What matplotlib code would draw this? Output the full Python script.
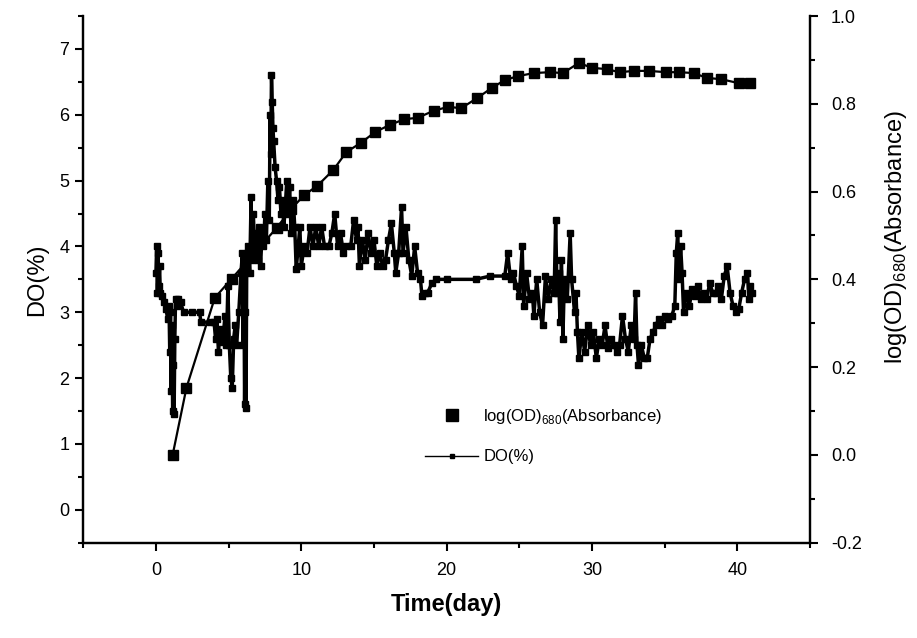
import numpy as np
import matplotlib
matplotlib.use('Agg')
import matplotlib.pyplot as plt
from matplotlib.lines import Line2D

plt.rcParams['font.family'] = ['Liberation Sans', 'DejaVu Sans']
plt.rcParams['mathtext.fontset'] = 'custom'
plt.rcParams['mathtext.rm'] = 'Liberation Sans'

# log(OD)680 - right axis
od_day = [1.15, 2.1, 4.05, 5.2, 8.3, 9.3, 10.2, 11.1, 12.2, 13.1, 14.1, 15.1, 16.1,
          17.1, 18.0, 19.1, 20.1, 21.0, 22.1, 23.1, 24.0, 24.9, 26.0, 27.1, 28.0,
          29.1, 30.0, 31.0, 31.9, 32.9, 33.9, 35.1, 36.0, 37.0, 37.9, 38.9, 40.1, 40.9]
od_val = [0.0, 0.153, 0.358, 0.401, 0.517, 0.56, 0.592, 0.613, 0.649, 0.690, 0.711,
          0.736, 0.752, 0.765, 0.768, 0.784, 0.793, 0.790, 0.813, 0.836, 0.854, 0.863,
          0.870, 0.872, 0.870, 0.893, 0.882, 0.879, 0.872, 0.875, 0.875, 0.872, 0.872,
          0.870, 0.859, 0.856, 0.847, 0.847]

# DO(%) - left axis
do_day = [0.0, 0.05, 0.1, 0.15, 0.2, 0.25, 0.3, 0.4, 0.55, 0.7, 0.8, 0.9, 0.95, 1.0,
          1.05, 1.1, 1.15, 1.2, 1.25, 1.3, 1.35, 1.45, 1.55, 1.7, 1.9, 2.5, 3.0, 3.1,
          3.7, 4.0, 4.1, 4.2, 4.3, 4.45, 4.6, 4.75, 4.85, 4.95, 5.05, 5.15, 5.25, 5.35,
          5.45, 5.55, 5.7, 5.85, 5.95, 6.0, 6.05, 6.1, 6.15, 6.2, 6.25, 6.35, 6.45,
          6.55, 6.6, 6.7, 6.8, 6.9, 7.0, 7.1, 7.2, 7.3, 7.4, 7.5, 7.6, 7.7, 7.8, 7.85,
          7.9, 7.95, 8.0, 8.05, 8.1, 8.2, 8.3, 8.4, 8.5, 8.6, 8.7, 8.8, 8.9, 9.0, 9.1,
          9.2, 9.3, 9.45, 9.55, 9.65, 9.75, 9.9, 10.0, 10.2, 10.4, 10.6, 10.8, 11.0,
          11.2, 11.4, 11.6, 11.9, 12.1, 12.3, 12.5, 12.7, 12.9, 13.1, 13.4, 13.6, 13.8,
          13.9, 14.0, 14.2, 14.4, 14.6, 14.8, 15.0, 15.2, 15.4, 15.6, 15.8, 16.0, 16.2,
          16.4, 16.5, 16.7, 16.9, 17.0, 17.2, 17.4, 17.6, 17.8, 18.0, 18.2, 18.3, 18.5,
          18.7, 19.0, 19.3, 20.0, 22.0, 23.0, 24.0, 24.2, 24.4, 24.6, 24.8, 25.0, 25.2,
          25.3, 25.5, 25.7, 25.9, 26.0, 26.2, 26.4, 26.6, 26.8, 27.0, 27.2, 27.4, 27.5,
          27.6, 27.7, 27.8, 27.9, 28.0, 28.1, 28.3, 28.5, 28.6, 28.8, 28.9, 29.0, 29.1,
          29.3, 29.5, 29.7, 29.9, 30.1, 30.3, 30.5, 30.7, 30.9, 31.1, 31.3, 31.5, 31.7,
          31.9, 32.1, 32.3, 32.5, 32.7, 32.9, 33.0, 33.1, 33.2, 33.4, 33.6, 33.8, 34.0,
          34.2, 34.4, 34.6, 34.8, 35.0, 35.2, 35.5, 35.7, 35.8, 35.9, 36.0, 36.1, 36.2,
          36.3, 36.5, 36.7, 36.9, 37.1, 37.3, 37.5, 37.7, 37.9, 38.1, 38.3, 38.5, 38.7,
          38.9, 39.1, 39.3, 39.5, 39.7, 39.9, 40.1, 40.3, 40.5, 40.7, 40.8, 40.9, 41.0]
do_val = [3.6, 4.0, 3.3, 3.9, 3.4, 3.7, 3.3, 3.25, 3.15, 3.05, 2.9, 3.1, 2.4, 3.0,
          1.8, 2.8, 1.5, 2.2, 1.45, 2.6, 3.2, 3.1, 3.2, 3.15, 3.0, 3.0, 3.0, 2.85,
          2.85, 2.85, 2.6, 2.9, 2.4, 2.75, 2.55, 2.95, 2.5, 3.4, 2.5, 2.0, 1.85, 2.6,
          2.8, 2.5, 3.0, 3.6, 3.9, 2.5, 3.8, 1.6, 3.0, 1.55, 3.9, 4.0, 3.6,
          4.75, 3.8, 4.5, 3.9, 4.2, 3.8, 4.3, 3.7, 4.2, 4.0, 4.5, 4.1, 5.0, 4.4, 6.0,
          5.4, 6.6, 6.2, 5.8, 5.6, 5.2, 5.0, 4.7, 4.9, 4.5, 4.7, 4.3, 4.6, 5.0, 4.5,
          4.9, 4.2, 4.7, 4.3, 3.65, 3.9, 4.3, 3.7, 4.0, 3.9, 4.3, 4.0, 4.3,
          4.0, 4.3, 4.0, 4.0, 4.2, 4.5, 4.0, 4.2, 3.9, 4.0, 4.0, 4.4, 4.1,
          4.3, 3.7, 4.1, 3.8, 4.2, 3.9, 4.1, 3.7, 3.9, 3.7, 3.8, 4.1, 4.35,
          3.9, 3.6, 3.9, 4.6, 3.9, 4.3, 3.8, 3.55, 4.0, 3.6, 3.5, 3.25, 3.3,
          3.3, 3.45, 3.5, 3.5, 3.5, 3.55, 3.55, 3.9, 3.5, 3.6, 3.4, 3.25, 4.0,
          3.1, 3.6, 3.2, 3.3, 2.95, 3.5, 3.0, 2.8, 3.55, 3.2, 3.5, 3.3, 4.4,
          3.3, 3.6, 2.85, 3.8, 2.6, 3.5, 3.2, 4.2, 3.5, 3.0, 3.3, 2.7, 2.3,
          2.7, 2.4, 2.8, 2.5, 2.7, 2.3, 2.6, 2.5, 2.8, 2.45, 2.6, 2.5, 2.4,
          2.5, 2.95, 2.6, 2.4, 2.8, 2.6, 3.3, 2.5, 2.2, 2.5, 2.3, 2.3, 2.6,
          2.7, 2.8, 2.9, 2.8, 2.95, 2.9, 2.95, 3.1, 3.9, 4.2, 3.5, 4.0, 3.6,
          3.0, 3.3, 3.1, 3.35, 3.25, 3.4, 3.2, 3.3, 3.2, 3.45, 3.3, 3.3, 3.4,
          3.2, 3.55, 3.7, 3.3, 3.1, 3.0, 3.05, 3.3, 3.5, 3.6, 3.2, 3.4, 3.3]

x_major = [0, 10, 20, 30, 40]
left_major = [0, 1, 2, 3, 4, 5, 6, 7]
right_major = [-0.2, 0.0, 0.2, 0.4, 0.6, 0.8, 1.0]

fig = plt.figure(figsize=(9.17, 6.38), dpi=100)
ax = fig.add_axes([0.0908, 0.1494, 0.7925, 0.8255])
ax2 = ax.twinx()

ax.plot(do_day, do_val, color='black', lw=2.5, marker='s', ms=4)
ax2.plot(od_day, od_val, color='black', lw=1.6, marker='s', ms=6.5)

ax.set_xlim(-5, 45)
ax.set_ylim(-0.5, 7.5)
ax2.set_ylim(-0.2, 1.0)

ax.set_xticks(x_major)
ax.set_xticks([-5, 5, 15, 25, 35, 45], minor=True)
ax.set_yticks(left_major)
ax.set_yticks(np.arange(-0.5, 7.6, 1.0), minor=True)
ax2.set_yticks(right_major)
ax2.set_yticks([-0.1, 0.1, 0.3, 0.5, 0.7, 0.9], minor=True)
ax2.set_yticklabels(['-0.2', '0.0', '0.2', '0.4', '0.6', '0.8', '1.0'])

for a in (ax, ax2):
    a.spines['top'].set_visible(False)
    for s in ('left', 'right', 'bottom'):
        a.spines[s].set_linewidth(1.6)
    a.tick_params(which='major', direction='out', length=6, width=1.5, labelsize=13)
    a.tick_params(which='minor', direction='out', length=3.5, width=1.5)
ax.tick_params(axis='x', pad=8)
ax.tick_params(axis='y', pad=4)
ax2.tick_params(axis='y', pad=9)

ax.set_xlabel('Time(day)', fontsize=17, fontweight='bold', labelpad=10)
ax.set_ylabel('DO(%)', fontsize=17, labelpad=8)
ax2.set_ylabel(r'log(OD)$_{\mathrm{680}}$(Absorbance)', fontsize=17, labelpad=6)
ax2.yaxis.set_label_coords(1.1, 0.58)

handles = [Line2D([], [], color='black', marker='s', ms=9, ls='none'),
           Line2D([], [], color='black', marker='s', ms=3, lw=1)]
labels = [r'log(OD)$_{\mathrm{680}}$(Absorbance)', 'DO(%)']
fig.legend(handles, labels, loc='upper left', bbox_to_anchor=(410 / 917, 1 - 392 / 638),
           frameon=False, fontsize=12, handlelength=3.2, handletextpad=0.3,
           labelspacing=1.4)

fig.savefig('out.png', dpi=100)
